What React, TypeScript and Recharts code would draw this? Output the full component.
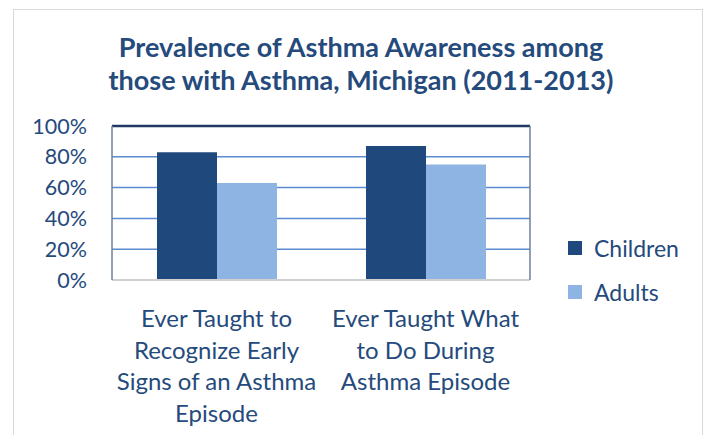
import React from "react";
import {
  BarChart,
  Bar,
  XAxis,
  YAxis,
  CartesianGrid,
  Legend,
  ReferenceLine,
} from "recharts";

const categoryLines = [
  ["Ever Taught to", "Recognize Early", "Signs of an Asthma", "Episode"],
  ["Ever Taught What", "to Do During", "Asthma Episode"],
];
const categories = categoryLines.map((l) => l.join(" "));
const children = [83, 87];
const adults = [63, 75];
const yTicks = [0, 20, 40, 60, 80, 100];

const TEXT = "#254a7c";
const FONT = "Lato, 'Open Sans', sans-serif";

const data = categories.map((name, i) => ({
  name,
  children: children[i],
  adults: adults[i],
}));

const CategoryTick = (props: any) => {
  const { x, y, payload } = props;
  const lines = categoryLines[payload.index] || [payload.value];
  return (
    <text
      x={x}
      y={y}
      textAnchor="middle"
      fill={TEXT}
      fontSize={24}
      fontFamily={FONT}
    >
      {lines.map((line, i) => (
        <tspan key={i} x={x} dy={i === 0 ? 45 : 31.5}>
          {line}
        </tspan>
      ))}
    </text>
  );
};

const LegendBox = () => (
  <div style={{ fontFamily: FONT, fontSize: 23, color: TEXT }}>
    {[
      { label: "Children", color: "#1f497d" },
      { label: "Adults", color: "#8eb4e3" },
    ].map((item) => (
      <div
        key={item.label}
        style={{ display: "flex", alignItems: "center", height: 44 }}
      >
        <span
          style={{
            width: 14,
            height: 14,
            background: item.color,
            marginRight: 12,
            display: "inline-block",
          }}
        />
        {item.label}
      </div>
    ))}
  </div>
);

export default function App() {
  return (
    <div
      style={{
        position: "absolute",
        left: 0,
        top: 0,
        width: 706,
        height: 435,
        background: "#fff",
        overflow: "hidden",
      }}
    >
      <div
        style={{
          position: "absolute",
          left: 13,
          top: 9,
          width: 688,
          height: 460,
          border: "1px solid #d9d9d9",
        }}
      />
      <div
        style={{
          position: "absolute",
          left: 0,
          top: 30,
          width: 722,
          textAlign: "center",
          fontFamily: FONT,
          fontWeight: 700,
          fontSize: 27,
          lineHeight: "33px",
          color: TEXT,
        }}
      >
        Prevalence of Asthma Awareness among
        <br />
        those with Asthma, Michigan (2011-2013)
      </div>
      <div style={{ position: "absolute", left: 0, top: 0 }}>
        <BarChart
          width={706}
          height={435}
          data={data}
          margin={{ top: 126, right: 45, left: 12, bottom: 15 }}
          barCategoryGap={45}
          barGap={0}
        >
          <CartesianGrid
            vertical={false}
            stroke="#5b8bd0"
            strokeWidth={1.5}
          />
          <XAxis
            dataKey="name"
            height={140}
            tick={<CategoryTick />}
            tickLine={false}
            tickSize={0}
            interval={0}
            axisLine={{ stroke: "#d0d0d0", strokeWidth: 2 }}
          />
          <YAxis
            width={100}
            domain={[0, 100]}
            ticks={yTicks}
            tickFormatter={(v) => `${v}%`}
            tickLine={false}
            tickSize={0}
            tickMargin={25}
            axisLine={{ stroke: "#6f7f99", strokeWidth: 1.5 }}
            tick={{ fill: TEXT, fontSize: 21.5, fontFamily: FONT }}
          />
          <YAxis
            yAxisId="r"
            orientation="right"
            width={1}
            domain={[0, 100]}
            tick={false}
            tickLine={false}
            axisLine={{ stroke: "#6f7f99", strokeWidth: 1.5 }}
          />
          <ReferenceLine y={100} stroke="#1f3864" strokeWidth={2.5} />
          <Legend
            layout="vertical"
            verticalAlign="top"
            align="right"
            content={<LegendBox />}
            wrapperStyle={{ left: 568, top: 226, width: 130 }}
          />
          <Bar
            dataKey="children"
            name="Children"
            fill="#1f497d"
            isAnimationActive={false}
          />
          <Bar
            dataKey="adults"
            name="Adults"
            fill="#8eb4e3"
            isAnimationActive={false}
          />
        </BarChart>
      </div>
    </div>
  );
}
